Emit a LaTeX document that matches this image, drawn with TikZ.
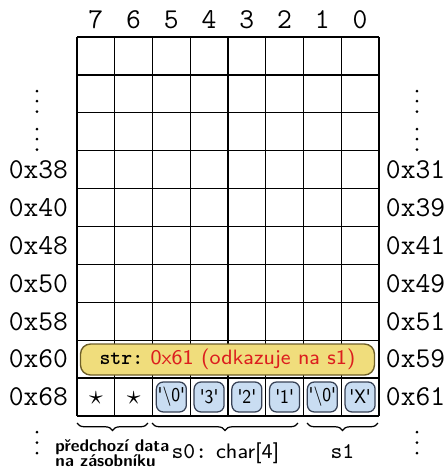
\documentclass[tikz,border=0pt]{standalone}
\usetikzlibrary{decorations.pathreplacing}
\definecolor{yfill}{RGB}{240,221,124}
\definecolor{yline}{RGB}{110,95,40}
\definecolor{bfill}{RGB}{201,221,242}
\definecolor{bline}{RGB}{55,65,85}
\definecolor{redtxt}{RGB}{220,30,30}
\begin{document}
\begin{tikzpicture}[x=0.4pt,y=-0.4pt,
  gridline/.style={line width=0.5pt},
  addr/.style={font=\fontsize{11.5}{13}\selectfont\ttfamily, inner sep=0pt},
  dotmark/.style={fill=black},
  ybox/.style={draw=yline, fill=yfill, line width=0.55pt, rounded corners=4pt,
    minimum width=117.6pt, minimum height=12.4pt, inner sep=0pt,
    font=\fontsize{8.3}{10}\selectfont},
  cbox/.style={draw=bline, fill=bfill, line width=0.5pt, rounded corners=2.8pt,
    minimum width=12pt, minimum height=12pt, inner sep=0pt,
    font=\fontsize{7.8}{8}\selectfont\sffamily},
  starnode/.style={inner sep=0pt, font=\fontsize{11}{13}\selectfont},
  bracepath/.style={decorate, decoration={brace,mirror,amplitude=3pt}, line width=0.5pt},
  smalllab/.style={inner sep=0pt, font=\fontsize{6.8}{6.2}\selectfont\sffamily\bfseries, align=left},
  typelab/.style={inner sep=0pt, font=\fontsize{9}{11}\selectfont}
]
\useasboundingbox (0,0) rectangle (447,469);

% grid
\foreach \i in {0,...,8}
  \draw[gridline] ({77+37.75*\i},37) -- ({77+37.75*\i},416);
\foreach \j in {0,...,10}
  \draw[gridline] (77,{37+37.9*\j}) -- (379,{37+37.9*\j});

% column headers
\foreach \k/\lab in {0/7,1/6,2/5,3/4,4/3,5/2,6/1,7/0}
  \node[addr] (h\lab) at ({77+37.75*(\k+0.5)},20) {\lab};

% address labels
\foreach \r/\lab in {3/38,4/40,5/48,6/50,7/58,8/60,9/68}
  \node[addr,anchor=east] (L\lab) at (68.5,{37+37.9*(\r+0.5)}) {0x\lab};
\foreach \r/\lab in {3/31,4/39,5/41,6/49,7/51,8/59,9/61}
  \node[addr,anchor=west] (R\lab) at (385.5,{37+37.9*(\r+0.5)}) {0x\lab};

% vertical dots
\foreach \x in {37,417}{
  \foreach \y in {91,101,111.5,129,139,149.5,432,442.5,453}
    \fill[dotmark] (\x,\y) circle (0.6pt);
}

% pointer box
\node[ybox] (str) at (227.5,359.5) {{\ttfamily\bfseries str:}~\textcolor{redtxt}{\sffamily 0x61 (odkazuje na s1)}};

% stars
\node[starnode] (st7) at ({77+37.75*0.5},398) {$\star$};
\node[starnode] (st6) at ({77+37.75*1.5},398) {$\star$};

% characters
\foreach \k/\lab/\n in {2/{\textquotesingle\textbackslash0\textquotesingle}/c5,
                      3/{\textquotesingle3\textquotesingle}/c4,
                      4/{\textquotesingle2\textquotesingle}/c3,
                      5/{\textquotesingle1\textquotesingle}/c2,
                      6/{\textquotesingle\textbackslash0\textquotesingle}/c1,
                      7/{\textquotesingle X\textquotesingle}/c0}
  \node[cbox] (\n) at ({77+37.75*(\k+0.5)},397) {\makebox[12pt]{\scalebox{0.85}[1]{\lab}}};

% braces
\coordinate (b1a) at (77,423);  \coordinate (b1b) at (148,423);
\coordinate (b2a) at (152,423); \coordinate (b2b) at (298,423);
\coordinate (b3a) at (307,423); \coordinate (b3b) at (378,423);
\draw[bracepath] (b1a) -- (b1b);
\draw[bracepath] (b2a) -- (b2b);
\draw[bracepath] (b3a) -- (b3b);

% labels under braces
\node[smalllab,anchor=north west] (prev) at (55,439) {předchozí data\\na zásobníku};
\node[typelab,anchor=base] (s0) at (225.5,458) {{\ttfamily s0:}\hspace{3.6pt}{\sffamily\fontsize{8.4}{10}\selectfont char[4]}};
\node[typelab,anchor=base] (s1) at (342.5,458) {\ttfamily s1};
\end{tikzpicture}
\end{document}
